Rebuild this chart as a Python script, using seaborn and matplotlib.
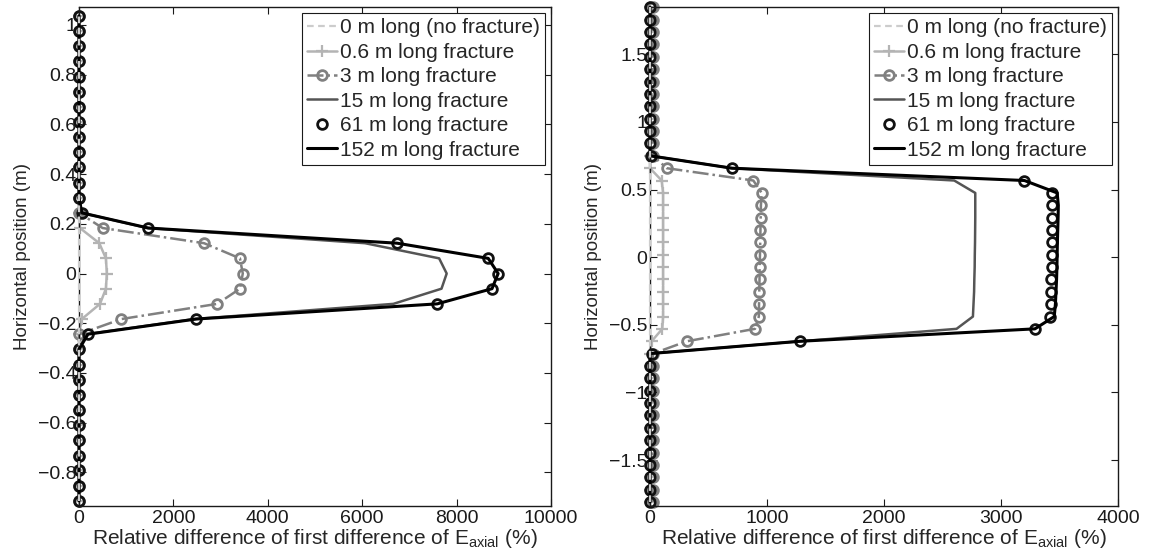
import numpy as np
import pandas as pd
import matplotlib
matplotlib.use("Agg")
import matplotlib.pyplot as plt
import seaborn as sns
from matplotlib.ticker import FuncFormatter, FixedLocator

sns.set_theme(style="white")
plt.rcParams['font.family'] = ['Liberation Sans', 'DejaVu Sans']
plt.rcParams['mathtext.fontset'] = 'custom'
plt.rcParams['mathtext.rm'] = 'Liberation Sans'
plt.rcParams['mathtext.it'] = 'Liberation Sans:italic'

LABELS = ["0 m long (no fracture)", "0.6 m long fracture", "3 m long fracture",
          "15 m long fracture", "61 m long fracture", "152 m long fracture"]
XLABEL = r"Relative difference of first difference of E$_{\mathrm{axial}}$ (%)"
YLABEL = "Horizontal position (m)"

# ---------------- left panel ----------------
Y_LEFT = [-0.914, -0.853, -0.792, -0.732, -0.671, -0.610, -0.549, -0.488, -0.427,
          -0.366, -0.305, -0.244, -0.183, -0.122, -0.061, 0.0, 0.061, 0.122, 0.183,
          0.244, 0.305, 0.366, 0.427, 0.488, 0.549, 0.610, 0.671, 0.732, 0.792,
          0.853, 0.914, 0.975, 1.036]
L_0 = [0] * 33
L_06 = [0] * 11 + [0, 60, 445, 570, 590, 570, 430, 20, 0] + [0] * 13
L_3 = [0] * 11 + [0, 900, 2930, 3410, 3470, 3410, 2650, 500, 0] + [0] * 13
L_15 = [0] * 11 + [150, 2450, 6660, 7680, 7790, 7630, 6060, 1450, 60] + [0] * 13
L_61 = [0] * 11 + [190, 2480, 7590, 8750, 8880, 8670, 6740, 1470, 60] + [0] * 13
L_152 = [0] * 11 + [190, 2480, 7590, 8750, 8880, 8670, 6740, 1470, 60] + [0] * 13
L_XTICKS = [0, 2000, 4000, 6000, 8000, 10000]
L_YTICKS = [-0.8, -0.6, -0.4, -0.2, 0, 0.2, 0.4, 0.6, 0.8, 1]

# ---------------- right panel ----------------
Y_RIGHT = [-1.810, -1.719, -1.628, -1.536, -1.445, -1.353, -1.262, -1.170, -1.079,
           -0.988, -0.896, -0.805, -0.713, -0.622, -0.530, -0.439, -0.347, -0.256,
           -0.165, -0.073, 0.018, 0.110, 0.201, 0.293, 0.384, 0.475, 0.567, 0.658,
           0.750, 0.841, 0.933, 1.024, 1.116, 1.207, 1.298, 1.390, 1.481, 1.573,
           1.664, 1.756, 1.847]
R_0 = [0] * 41
R_06 = [0] * 12 + [0, 14, 105, 112, 112, 112, 112, 112, 112, 112, 112, 112, 112, 112, 100, 0, 0] + [0] * 12
R_3 = [25] * 12 + [25, 314, 897, 930, 932, 934, 936, 937, 940, 942, 944, 946, 948, 955, 883, 143, 25] + [25] * 12
R_15 = [0] * 12 + [0, 1280, 2620, 2760, 2765, 2770, 2772, 2775, 2776, 2778, 2779, 2780, 2780, 2780, 2600, 700, 0] + [0] * 12
R_61 = [0] * 12 + [20, 1280, 3290, 3420, 3425, 3428, 3430, 3432, 3434, 3436, 3438, 3440, 3440, 3440, 3200, 700, 10] + [0] * 12
R_152 = [0] * 12 + [0, 1280, 3290, 3455, 3465, 3470, 3475, 3478, 3480, 3482, 3485, 3488, 3490, 3480, 3200, 700, 0] + [0] * 12
R_XTICKS = [0, 1000, 2000, 3000, 4000]
R_YTICKS = [-1.5, -1, -0.5, 0, 0.5, 1, 1.5]

STYLES = [
    dict(color="#cccccc", linestyle=(0, (3.0, 2.0)), linewidth=1.6),
    dict(color="#b4b4b4", linestyle="-", linewidth=1.8, marker="+", markersize=8,
         markeredgewidth=1.6, markeredgecolor="#b4b4b4"),
    dict(color="#808080", linestyle="-.", linewidth=1.8, marker="o", markersize=7,
         markerfacecolor="none", markeredgewidth=2.0, markeredgecolor="#808080"),
    dict(color="#555555", linestyle="-", linewidth=1.8),
    dict(color="#111111", linestyle="", linewidth=1.8, marker="o", markersize=7,
         markerfacecolor="none", markeredgewidth=2.0, markeredgecolor="#111111"),
    dict(color="#000000", linestyle="-", linewidth=2.2),
]
ZORDERS = [3, 2.1, 2.2, 2.3, 2.4, 2.6]

FS_TICK = 14
FS_XLAB = 15
FS_YLAB = 13.5
FS_LEG = 15


def fmt(v, pos):
    if abs(v) < 1e-9:
        return "0"
    return f"{v:g}".replace("-", "\u2212")


def draw(ax, ys, series, xlim, ylim, xticks, yticks):
    for vals, lab, st, zo in zip(series, LABELS, STYLES, ZORDERS):
        df = pd.DataFrame({"x": vals, "y": ys})
        sns.lineplot(data=df, x="x", y="y", sort=False, estimator=None, ax=ax,
                     label=lab, zorder=zo, clip_on=False, **st)
    ax.set_xlim(*xlim)
    ax.set_ylim(*ylim)
    ax.xaxis.set_major_locator(FixedLocator(xticks))
    ax.yaxis.set_major_locator(FixedLocator(yticks))
    ax.xaxis.set_major_formatter(FuncFormatter(fmt))
    ax.yaxis.set_major_formatter(FuncFormatter(fmt))
    ax.tick_params(direction="in", top=True, right=True, length=5, width=0.8,
                   labelsize=FS_TICK, colors="k", bottom=True, left=True)
    ax.tick_params(axis="x", pad=3)
    ax.tick_params(axis="y", pad=2)
    for sp in ax.spines.values():
        sp.set_color("k")
        sp.set_linewidth(1.0)
    ax.set_xlabel(XLABEL, fontsize=FS_XLAB)
    ax.xaxis.set_label_coords(0.5, -0.043)
    ax.set_ylabel(YLABEL, fontsize=FS_YLAB, labelpad=5)
    leg = ax.legend(loc="upper right", fontsize=FS_LEG, frameon=True, fancybox=False,
                    edgecolor="k", framealpha=1, borderaxespad=0.3,
                    handlelength=1.4, handletextpad=0.15, labelspacing=0.26,
                    borderpad=0.25)
    leg.get_frame().set_linewidth(0.8)
    leg.set_zorder(5)


fig = plt.figure(figsize=(11.56, 5.60), dpi=100)
ax1 = fig.add_axes([79 / 1156, (560 - 506) / 560, 472 / 1156, 499 / 560])
ax2 = fig.add_axes([650 / 1156, (560 - 506) / 560, 468 / 1156, 499 / 560])

draw(ax1, Y_LEFT, [L_0, L_06, L_3, L_15, L_61, L_152], (0, 10000), (-0.935, 1.072),
     L_XTICKS, L_YTICKS)
draw(ax2, Y_RIGHT, [R_0, R_06, R_3, R_15, R_61, R_152], (0, 4000), (-1.84, 1.85),
     R_XTICKS, R_YTICKS)

fig.savefig("out.png", dpi=100, facecolor="white")
